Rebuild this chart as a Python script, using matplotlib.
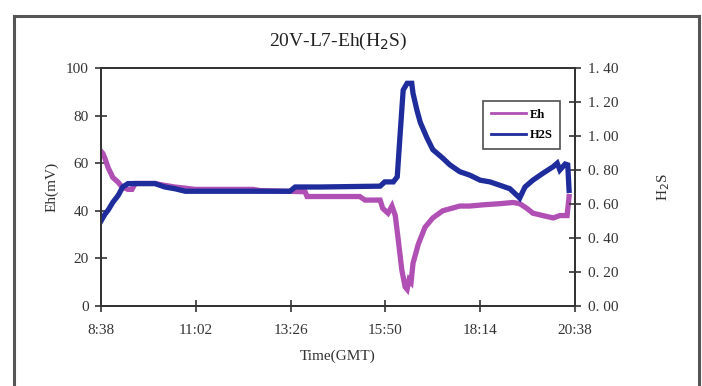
import matplotlib
matplotlib.use("Agg")
import matplotlib.pyplot as plt
from matplotlib.lines import Line2D
from matplotlib.ticker import FixedLocator

# ── data (minutes after 08:38) ───────────────────────────────────────────────
eh_t = [0, 3, 6, 11, 18, 26, 32, 41, 47, 52, 82, 90, 112, 128, 143, 173, 231,
        242, 310, 313, 393, 401, 424, 428, 436, 442, 447, 451, 457, 462, 465,
        468, 471, 474, 482, 492, 504, 519, 545, 560, 580, 606, 626, 636, 647,
        656, 671, 687, 697, 708, 711]
eh_v = [65, 64, 62, 58, 54, 52, 50, 49, 49, 51.5, 51.5, 51, 50, 49.5, 49, 49,
        49, 48.5, 48, 46, 46, 44.5, 44.5, 41, 39, 42, 38, 29, 15, 8, 7,
        11, 10, 18, 26, 33, 37, 40, 42, 42, 42.5, 43, 43.5, 43, 41,
        39, 38, 37, 38, 38, 46]

h2s_t = [0, 6, 11, 18, 26, 33, 41, 67, 82, 97, 112, 128, 196, 287, 295, 333,
         424, 431, 444, 450, 454, 459, 465, 472, 474, 480, 485, 495, 504, 519,
         530, 545, 560, 576, 591, 606, 621, 632, 636, 644, 656, 671, 687, 693,
         697, 705, 709, 711]
h2s_v = [0.50, 0.54, 0.565, 0.61, 0.65, 0.70, 0.72, 0.72, 0.72, 0.70, 0.69,
         0.675, 0.675, 0.675, 0.70, 0.70, 0.705, 0.73, 0.73, 0.76, 0.99, 1.27,
         1.31, 1.31, 1.25, 1.15, 1.08, 0.99, 0.92, 0.87, 0.83, 0.79, 0.77, 0.74,
         0.73, 0.71, 0.69, 0.65, 0.635, 0.70, 0.74, 0.78, 0.82, 0.84, 0.80,
         0.835, 0.83, 0.68]

x_ticks = [0, 144, 288, 432, 576, 720]
x_labels = ["8:38", "11:02", "13:26", "15:50", "18:14", "20:38"]
eh_ticks = [0, 20, 40, 60, 80, 100]
h2s_ticks = [0.0, 0.2, 0.4, 0.6, 0.8, 1.0, 1.2, 1.4]
h2s_labels = ["0. 00", "0. 20", "0. 40", "0. 60", "0. 80", "1. 00", "1. 20", "1. 40"]

EH_COL = "#B050B4"
H2S_COL = "#1E2C9C"
SERIF = "Liberation Serif"

plt.rcParams["font.family"] = SERIF

fig = plt.figure(figsize=(7.02, 3.86), dpi=100)
ax = fig.add_axes([101 / 702, 1 - 306 / 386, 474 / 702, 238 / 386])
ax2 = ax.twinx()

l1, = ax.plot(eh_t, eh_v, color=EH_COL, lw=3.8, solid_joinstyle="miter")
l2, = ax2.plot(h2s_t, h2s_v, color=H2S_COL, lw=3.8, solid_joinstyle="miter")

ax.set_xlim(0, 720)
ax.set_ylim(0, 100)
ax2.set_ylim(0, 1.4)

ax.xaxis.set_major_locator(FixedLocator(x_ticks))
ax.set_xticklabels(x_labels, fontsize=11)
ax.set_yticks(eh_ticks)
ax.set_yticklabels([str(v) for v in eh_ticks], fontsize=11)
ax2.set_yticks(h2s_ticks)
ax2.set_yticklabels(h2s_labels, fontsize=11)

for a in (ax, ax2):
    a.tick_params(direction="inout", length=8, width=1.2, color="#333333",
                  labelcolor="#333333", pad=5)
    for s in a.spines.values():
        s.set_linewidth(1.3)
        s.set_color("#333333")
ax.tick_params(axis="x", pad=9)

ax.set_xlabel("Time(GMT)", fontsize=11, color="#333333", labelpad=9)
ax.set_ylabel("Eh(mV)", fontsize=11, color="#333333", labelpad=5)
ax2.set_ylabel("H$_2$S", fontsize=11, color="#333333", labelpad=27)
ax.set_title("20V-L7-Eh(H$_2$S)", fontsize=14, color="#222222", pad=16)

leg = ax2.legend([l1, l2], ["Eh", "H2S"], loc="upper left",
                 bbox_to_anchor=(382 / 474, 1 - 33 / 238), fontsize=9,
                 frameon=True, fancybox=False, edgecolor="#222222",
                 handlelength=2.8, handletextpad=0.35, borderpad=0.6,
                 labelspacing=0.7, borderaxespad=0)
leg.get_frame().set_linewidth(1.2)
for h in leg.get_lines():
    h.set_linewidth(2)
for t in leg.get_texts():
    t.set_fontweight("bold")

# outer frame
fc = "#555555"
fig.add_artist(Line2D([14 / 702, 699 / 702], [1 - 16 / 386] * 2, color=fc, lw=2.2,
                      transform=fig.transFigure))
fig.add_artist(Line2D([14 / 702] * 2, [0, 1 - 16 / 386], color=fc, lw=2.2,
                      transform=fig.transFigure))
fig.add_artist(Line2D([699 / 702] * 2, [0, 1 - 16 / 386], color=fc, lw=2.2,
                      transform=fig.transFigure))

fig.savefig("out.png", dpi=100)
